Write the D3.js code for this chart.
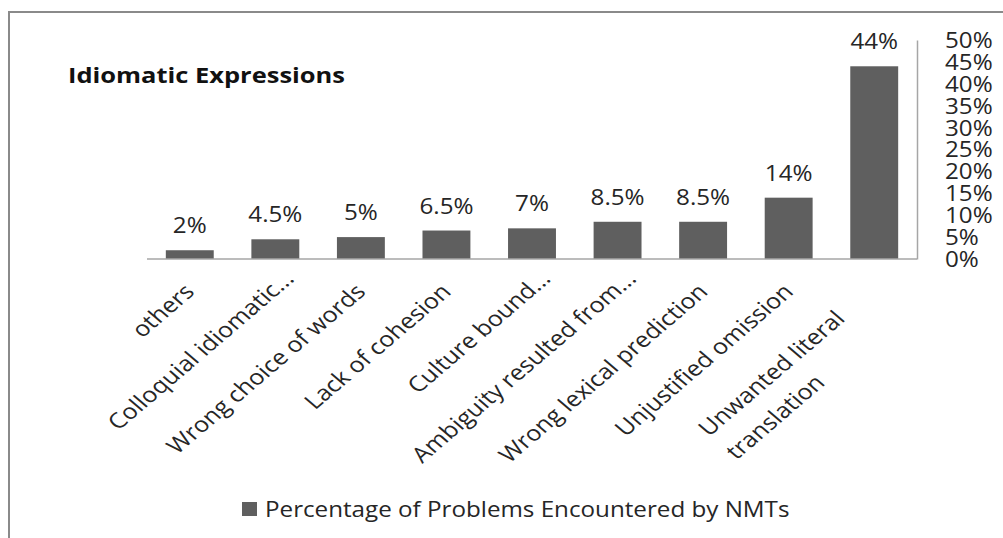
<!doctype html>
<html lang="en">
<head>
  <meta charset="utf-8">
  <title>Idiomatic Expressions</title>
  <style>
    html, body {
      margin: 0;
      padding: 0;
      background: white;
      overflow: hidden;
    }
    svg text {
      font-family: 'Open Sans', sans-serif;
      fill: #262626;
    }
  </style>
</head>
<body>
  <div id="chart"></div>

  <script src="https://d3js.org/d3.v7.min.js"></script>
  <script>
    // data
    const categories = [
      ["others"],
      ["Colloquial idiomatic..."],
      ["Wrong choice of words"],
      ["Lack of cohesion"],
      ["Culture bound..."],
      ["Ambiguity resulted from..."],
      ["Wrong lexical prediction"],
      ["Unjustified omission"],
      ["Unwanted literal", "translation"]
    ];
    const values = [2, 4.5, 5, 6.5, 7, 8.5, 8.5, 14, 44];
    const valueLabels = ["2%", "4.5%", "5%", "6.5%", "7%", "8.5%", "8.5%", "14%", "44%"];
    const yTicks = [0, 5, 10, 15, 20, 25, 30, 35, 40, 45, 50];
    const seriesName = "Percentage of Problems Encountered by NMTs";
    const title = "Idiomatic Expressions";

    const W = 1003, H = 538;
    const barColor = "#5f5f5f";
    const S = 1.1;      // the source picture is a bit wider than tall, text too
    const S2 = 1.17;    // same for the slanted category labels
    const fs = 22;

    const svg = d3.select("#chart")
      .append("svg")
      .attr("width", W)
      .attr("height", H);

    // outer chart frame (right and bottom run off the picture)
    svg.append("rect")
      .attr("x", 9).attr("y", 12)
      .attr("width", W + 20).attr("height", H + 20)
      .attr("fill", "none")
      .attr("stroke", "#8a8a8a")
      .attr("stroke-width", 2);

    const x = d3.scaleBand()
      .domain(d3.range(categories.length))
      .range([147, 917])
      .paddingInner(0.44)
      .paddingOuter(0.22);

    const y = d3.scaleLinear()
      .domain([0, 50])
      .range([259, 40]);

    // bars
    svg.selectAll("rect.bar")
      .data(values)
      .enter().append("rect")
      .attr("class", "bar")
      .attr("x", (d, i) => x(i))
      .attr("y", d => y(d))
      .attr("width", x.bandwidth())
      .attr("height", d => y(0) - y(d))
      .attr("fill", barColor);

    // category axis line
    svg.append("line")
      .attr("x1", 147).attr("x2", 917)
      .attr("y1", y(0)).attr("y2", y(0))
      .attr("stroke", "#a6a6a6").attr("stroke-width", 1.5);

    // value axis on the right
    const yAxis = d3.axisRight(y)
      .tickValues(yTicks)
      .tickSize(0)
      .tickFormat(d => d + "%");

    const yg = svg.append("g")
      .attr("transform", "translate(917,0)")
      .call(yAxis);
    yg.select(".domain").attr("stroke", "#a6a6a6").attr("stroke-width", 1.5);
    yg.selectAll("text")
      .attr("x", 28 / S)
      .attr("dy", "0.34em")
      .attr("transform", `scale(${S},1)`)
      .attr("font-size", fs)
      .attr("font-family", "'Open Sans', sans-serif")
      .attr("fill", "#262626");

    // value labels
    svg.selectAll("text.val")
      .data(values)
      .enter().append("text")
      .attr("class", "val")
      .attr("transform", (d, i) =>
        `translate(${x(i) + x.bandwidth() / 2},${y(d) - 17}) scale(${S},1)`)
      .attr("text-anchor", "middle")
      .attr("font-size", fs)
      .text((d, i) => valueLabels[i]);

    // slanted category labels
    const labels = svg.selectAll("g.cat")
      .data(categories)
      .enter().append("g")
      .attr("class", "cat")
      .attr("transform", (d, i) => {
        const cx = x(i) + x.bandwidth() / 2;
        let ax = cx + 6, ay = 293;
        if (d.length > 1) { ax = cx - 28; ay = 320; }
        else if (d[0].endsWith("...")) { ax = cx + 20; ay = 280; }
        return `translate(${ax},${ay}) scale(${S2},1) rotate(-45)`;
      });

    labels.each(function(lines) {
      const g = d3.select(this);
      const first = g.append("text")
        .attr("text-anchor", "end")
        .attr("font-size", 21.5)
        .text(lines[0]);
      if (lines.length > 1) {
        // wrapped label: following lines start where the first one starts
        const len = first.node().getComputedTextLength();
        lines.slice(1).forEach((s, k) => {
          g.append("text")
            .attr("x", -len)
            .attr("y", (k + 1) * 33)
            .attr("font-size", 21.5)
            .text(s);
        });
      }
    });

    // title
    svg.append("text")
      .attr("x", 68).attr("y", 83)
      .attr("font-size", 21)
      .attr("font-weight", "bold")
      .style("fill", "#111")
      .attr("textLength", 277)
      .attr("lengthAdjust", "spacingAndGlyphs")
      .text(title);

    // legend
    const legend = svg.append("g").attr("transform", "translate(242,502)");
    legend.append("rect")
      .attr("width", 15).attr("height", 14)
      .attr("fill", barColor);
    legend.append("text")
      .attr("transform", `translate(23,15) scale(${S},1)`)
      .attr("font-size", fs)
      .text(seriesName);
  </script>
</body>
</html>
